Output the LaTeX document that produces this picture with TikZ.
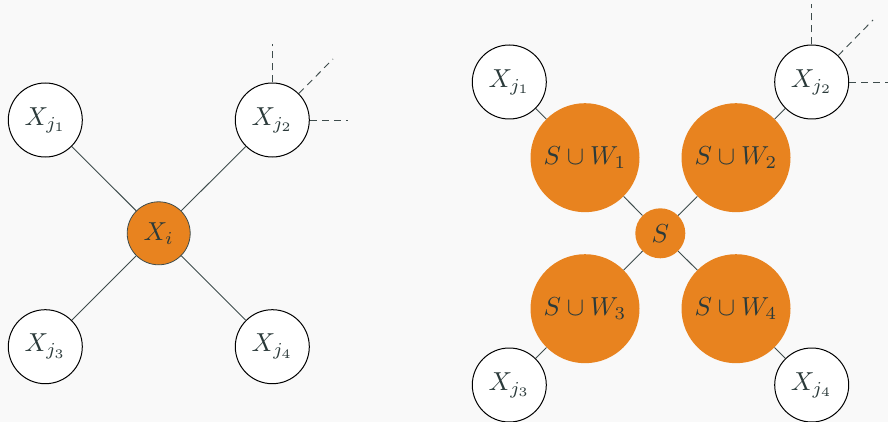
\documentclass[tikz,border=0pt]{standalone}
\usepackage{xcolor}
\usepackage{graphicx}
\newcommand\BigT[1]{\scalebox{2.6}{$#1$}}
\definecolor{bg}{HTML}{F9F9F9}
\definecolor{org}{HTML}{E8831F}
\definecolor{txt}{HTML}{2B3A3A}
\definecolor{edge}{HTML}{3E4C4C}
\begin{document}
\begin{tikzpicture}[x=1pt,y=-1pt,
  every node/.style={text=txt},
  var/.style={circle, draw=black, line width=1pt, fill=white, minimum size=74pt, inner sep=0pt},
  hub/.style={circle, draw=edge, line width=0.8pt, fill=org, minimum size=63pt, inner sep=0pt},
  big/.style={circle, fill=org, minimum size=109pt, inner sep=0pt},
  sep/.style={circle, fill=org, minimum size=50pt, inner sep=0pt},
  link/.style={draw=edge, line width=0.9pt},
  dlink/.style={draw=edge, line width=0.9pt, dash pattern=on 7pt off 5pt}]
\fill[bg] (0,0) rectangle (888,422);
\useasboundingbox (0,0) rectangle (888,422);
% left graph
\node[hub] (xi) at (158.7,233.3) {\BigT{X_i}};
\node[var] (a1) at (45.3,120) {\BigT{X_{j_1}}};
\node[var] (a2) at (272.3,120) {\BigT{X_{j_2}}};
\node[var] (a3) at (45.3,346.7) {\BigT{X_{j_3}}};
\node[var] (a4) at (272.3,346.7) {\BigT{X_{j_4}}};
\draw[link] (a1) -- (xi);
\draw[link] (a2) -- (xi);
\draw[link] (a3) -- (xi);
\draw[link] (a4) -- (xi);
\coordinate (au) at (272.3,44);
\coordinate (ad) at (333,59);
\coordinate (ar) at (348,120);
\draw[dlink] (a2.north) -- (au);
\draw[dlink] (a2.45) -- (ad);
\draw[dlink] (a2.east) -- (ar);
% right graph
\node[sep] (s) at (660.3,233.3) {\BigT{S}};
\node[big] (w1) at (585,157.7) {\BigT{S\cup W_1}};
\node[big] (w2) at (736,157.7) {\BigT{S\cup W_2}};
\node[big] (w3) at (585,308.7) {\BigT{S\cup W_3}};
\node[big] (w4) at (736,308.7) {\BigT{S\cup W_4}};
\node[var] (b1) at (509.3,82) {\BigT{X_{j_1}}};
\node[var] (b2) at (811.7,82) {\BigT{X_{j_2}}};
\node[var] (b3) at (509.3,385) {\BigT{X_{j_3}}};
\node[var] (b4) at (811.7,385) {\BigT{X_{j_4}}};
\draw[link] (b1) -- (w1);
\draw[link] (b2) -- (w2);
\draw[link] (b3) -- (w3);
\draw[link] (b4) -- (w4);
\draw[link] (w1) -- (s);
\draw[link] (w2) -- (s);
\draw[link] (w3) -- (s);
\draw[link] (w4) -- (s);
\coordinate (bu) at (811.7,4);
\coordinate (bd) at (873,20);
\coordinate (br) at (888,82);
\draw[dlink] (b2.north) -- (bu);
\draw[dlink] (b2.45) -- (bd);
\draw[dlink] (b2.east) -- (br);
\end{tikzpicture}
\end{document}
